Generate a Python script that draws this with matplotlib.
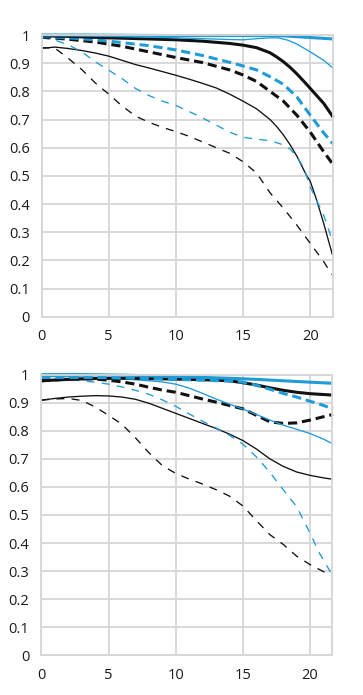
import matplotlib
matplotlib.use("Agg")
import matplotlib.pyplot as plt

plt.rcParams['font.family'] = ['Open Sans', 'DejaVu Sans']

# ---------------- Top panel data ----------------
top_blue_thick_x = [0, 3, 6, 10, 15, 17, 18, 19, 20, 21, 21.7]
top_blue_thick_y = [1.0, 1.0, 0.999, 0.998, 0.998, 0.998, 0.997, 0.994, 0.991, 0.988, 0.986]

top_blue_thin_x = [0, 2, 5, 8, 10, 12, 14, 15, 16, 17, 17.6, 18.3, 19, 20, 21, 21.7]
top_blue_thin_y = [1.0, 0.998, 0.995, 0.992, 0.99, 0.987, 0.984, 0.983, 0.987, 0.99, 0.99, 0.982, 0.968, 0.94, 0.91, 0.882]

top_black_thick_x = [0, 2, 5, 8, 10, 12, 14, 15, 16, 17, 17.5, 18, 18.5, 19, 19.7, 20, 21, 21.7]
top_black_thick_y = [0.997, 0.995, 0.99, 0.986, 0.983, 0.978, 0.97, 0.964, 0.955, 0.937, 0.922, 0.905, 0.885, 0.862, 0.826, 0.81, 0.757, 0.708]

top_blue_dash_thick_x = [0, 2, 4, 6, 8, 10, 12, 14, 15, 16, 17, 18, 19, 20, 21, 21.7]
top_blue_dash_thick_y = [0.995, 0.99, 0.983, 0.973, 0.962, 0.947, 0.927, 0.903, 0.89, 0.876, 0.852, 0.825, 0.78, 0.715, 0.652, 0.613]

top_black_dash_thick_x = [0, 2, 4, 6, 8, 10, 12, 14, 15, 16, 17, 18, 19, 20, 21, 21.7]
top_black_dash_thick_y = [0.993, 0.985, 0.975, 0.96, 0.94, 0.92, 0.902, 0.876, 0.858, 0.835, 0.80, 0.765, 0.715, 0.655, 0.585, 0.54]

top_black_thin_x = [0, 1, 2, 3, 4, 5, 6, 7, 8, 9, 10, 11, 12, 13, 14, 15, 16, 17, 17.5, 18, 18.5, 19, 19.7, 20, 20.5, 21, 21.65]
top_black_thin_y = [0.953, 0.957, 0.952, 0.945, 0.936, 0.925, 0.91, 0.895, 0.883, 0.87, 0.857, 0.843, 0.828, 0.812, 0.79, 0.765, 0.738, 0.70, 0.675, 0.645, 0.61, 0.57, 0.503, 0.48, 0.41, 0.33, 0.219]

top_blue_dash_thin_x = [0, 1, 2, 3, 4, 5, 6, 7, 8, 9, 10, 11, 12, 13, 14, 15, 16, 17, 18, 18.5, 19, 19.5, 20, 20.5, 21, 21.6]
top_blue_dash_thin_y = [0.99, 0.982, 0.965, 0.94, 0.905, 0.875, 0.845, 0.81, 0.785, 0.765, 0.75, 0.728, 0.705, 0.68, 0.655, 0.637, 0.63, 0.625, 0.61, 0.595, 0.568, 0.53, 0.46, 0.41, 0.36, 0.275]

top_black_dash_thin_x = [0, 1, 2, 3, 4, 5, 6, 7, 8, 9, 10, 11, 12, 13, 14, 15, 16, 17, 18, 19, 20, 21, 21.6]
top_black_dash_thin_y = [0.955, 0.953, 0.917, 0.877, 0.83, 0.79, 0.748, 0.712, 0.69, 0.672, 0.657, 0.64, 0.62, 0.60, 0.58, 0.55, 0.51, 0.44, 0.385, 0.325, 0.26, 0.195, 0.15]

# ---------------- Bottom panel data ----------------
bot_blue_thick_x = [0, 3, 6, 8, 10, 12, 14, 16, 18, 20, 21.7]
bot_blue_thick_y = [1.0, 1.0, 0.998, 0.996, 0.993, 0.99, 0.987, 0.983, 0.978, 0.973, 0.969]

bot_blue_thin_x = [0, 2, 4, 6, 8, 9, 10, 11, 12, 13, 14, 15, 16, 17, 18, 19, 20, 21, 21.7]
bot_blue_thin_y = [0.993, 0.993, 0.99, 0.985, 0.978, 0.974, 0.966, 0.952, 0.933, 0.913, 0.895, 0.877, 0.858, 0.838, 0.82, 0.805, 0.79, 0.77, 0.753]

bot_black_thick_x = [0, 2, 4, 6, 8, 10, 12, 14, 15, 16, 17, 18, 19, 20, 21, 21.7]
bot_black_thick_y = [0.978, 0.983, 0.986, 0.987, 0.986, 0.984, 0.982, 0.978, 0.971, 0.963, 0.953, 0.944, 0.937, 0.932, 0.929, 0.927]

bot_blue_dash_thick_x = [0, 2, 4, 6, 8, 10, 12, 14, 15, 16, 17, 18, 19, 20, 21, 21.7]
bot_blue_dash_thick_y = [0.99, 0.99, 0.99, 0.988, 0.986, 0.983, 0.98, 0.977, 0.973, 0.962, 0.948, 0.933, 0.92, 0.905, 0.89, 0.878]

bot_black_dash_thick_x = [0, 2, 3, 4, 5, 6, 7, 8, 9, 10, 11, 12, 13, 14, 15, 16, 17, 18, 19, 20, 21, 21.7]
bot_black_dash_thick_y = [0.978, 0.984, 0.986, 0.984, 0.98, 0.974, 0.966, 0.955, 0.945, 0.937, 0.925, 0.913, 0.902, 0.89, 0.878, 0.855, 0.832, 0.826, 0.828, 0.838, 0.85, 0.858]

bot_blue_dash_thin_x = [0, 2, 4, 5, 6, 7, 8, 9, 10, 11, 12, 13, 14, 15, 16, 17, 18, 19, 20, 20.7, 21.6]
bot_blue_dash_thin_y = [0.985, 0.983, 0.973, 0.966, 0.956, 0.944, 0.93, 0.91, 0.887, 0.86, 0.834, 0.81, 0.784, 0.752, 0.707, 0.652, 0.59, 0.529, 0.435, 0.363, 0.29]

bot_black_thin_x = [0, 1, 2, 3, 4, 5, 6, 7, 8, 9, 10, 11, 12, 13, 14, 15, 16, 17, 18, 19, 20, 21, 21.7]
bot_black_thin_y = [0.909, 0.915, 0.92, 0.923, 0.925, 0.924, 0.92, 0.912, 0.898, 0.88, 0.862, 0.844, 0.826, 0.808, 0.788, 0.765, 0.735, 0.700, 0.673, 0.653, 0.641, 0.632, 0.627]

bot_black_dash_thin_x = [0, 1, 2, 3, 4, 5, 6, 7, 8, 9, 10, 11, 12, 13, 14, 15, 16, 17, 18, 19, 20, 21, 21.6]
bot_black_dash_thin_y = [0.909, 0.913, 0.915, 0.908, 0.885, 0.855, 0.823, 0.775, 0.722, 0.676, 0.648, 0.628, 0.61, 0.59, 0.567, 0.532, 0.48, 0.43, 0.395, 0.353, 0.323, 0.298, 0.285]

x_ticks = [0, 5, 10, 15, 20]
x_tick_labels = ['0', '5', '10', '15', '20']
y_ticks = [0, 0.1, 0.2, 0.3, 0.4, 0.5, 0.6, 0.7, 0.8, 0.9, 1.0]
y_tick_labels = ['0', '0.1', '0.2', '0.3', '0.4', '0.5', '0.6', '0.7', '0.8', '0.9', '1']

BLUE = '#1f9bd7'
BLACK = '#111111'
GRID = '#d6d6d6'
THICK = 2.2
THIN = 0.95
DASH_THICK = (0, (3.0, 1.6))
DASH_THIN = (0, (6.0, 5.5))

fig = plt.figure(figsize=(3.63, 6.95), dpi=100)
ax_top = fig.add_axes([41.5 / 363, 1 - 316.7 / 695, 291 / 363, 281.7 / 695])
ax_bot = fig.add_axes([41.3 / 363, 1 - 655.3 / 695, 291 / 363, 280.7 / 695])


def style(ax):
    ax.set_xlim(0, 21.65)
    ax.set_ylim(0, 1)
    ax.set_xticks(x_ticks)
    ax.set_xticklabels(x_tick_labels)
    ax.set_yticks(y_ticks)
    ax.set_yticklabels(y_tick_labels)
    ax.grid(True, color=GRID, linewidth=1.3)
    ax.set_axisbelow(True)
    for s in ax.spines.values():
        s.set_color(GRID)
        s.set_linewidth(1.3)
    ax.tick_params(length=0, labelsize=10.5, colors='#1a1a1a')
    ax.tick_params(axis='y', pad=8.5)
    ax.tick_params(axis='x', pad=9)


def draw(ax, series):
    for x, y, color, lw, ls in series:
        ax.plot(x, y, color=color, lw=lw, linestyle=ls, clip_on=False,
                solid_capstyle='butt', dash_capstyle='butt')


style(ax_top)
draw(ax_top, [
    (top_black_dash_thin_x, top_black_dash_thin_y, BLACK, THIN, DASH_THIN),
    (top_black_thin_x, top_black_thin_y, BLACK, THIN, '-'),
    (top_blue_dash_thin_x, top_blue_dash_thin_y, BLUE, THIN, DASH_THIN),
    (top_black_dash_thick_x, top_black_dash_thick_y, BLACK, THICK, DASH_THICK),
    (top_blue_dash_thick_x, top_blue_dash_thick_y, BLUE, THICK, DASH_THICK),
    (top_black_thick_x, top_black_thick_y, BLACK, THICK, '-'),
    (top_blue_thin_x, top_blue_thin_y, BLUE, THIN, '-'),
    (top_blue_thick_x, top_blue_thick_y, BLUE, THICK, '-'),
])

style(ax_bot)
draw(ax_bot, [
    (bot_black_dash_thin_x, bot_black_dash_thin_y, BLACK, THIN, DASH_THIN),
    (bot_black_thin_x, bot_black_thin_y, BLACK, THIN, '-'),
    (bot_blue_dash_thin_x, bot_blue_dash_thin_y, BLUE, THIN, DASH_THIN),
    (bot_black_dash_thick_x, bot_black_dash_thick_y, BLACK, THICK, DASH_THICK),
    (bot_blue_thin_x, bot_blue_thin_y, BLUE, THIN, '-'),
    (bot_black_thick_x, bot_black_thick_y, BLACK, THICK, '-'),
    (bot_blue_dash_thick_x, bot_blue_dash_thick_y, BLUE, THICK, DASH_THICK),
    (bot_blue_thick_x, bot_blue_thick_y, BLUE, THICK, '-'),
])

fig.savefig('out.png', dpi=100, facecolor='white')
